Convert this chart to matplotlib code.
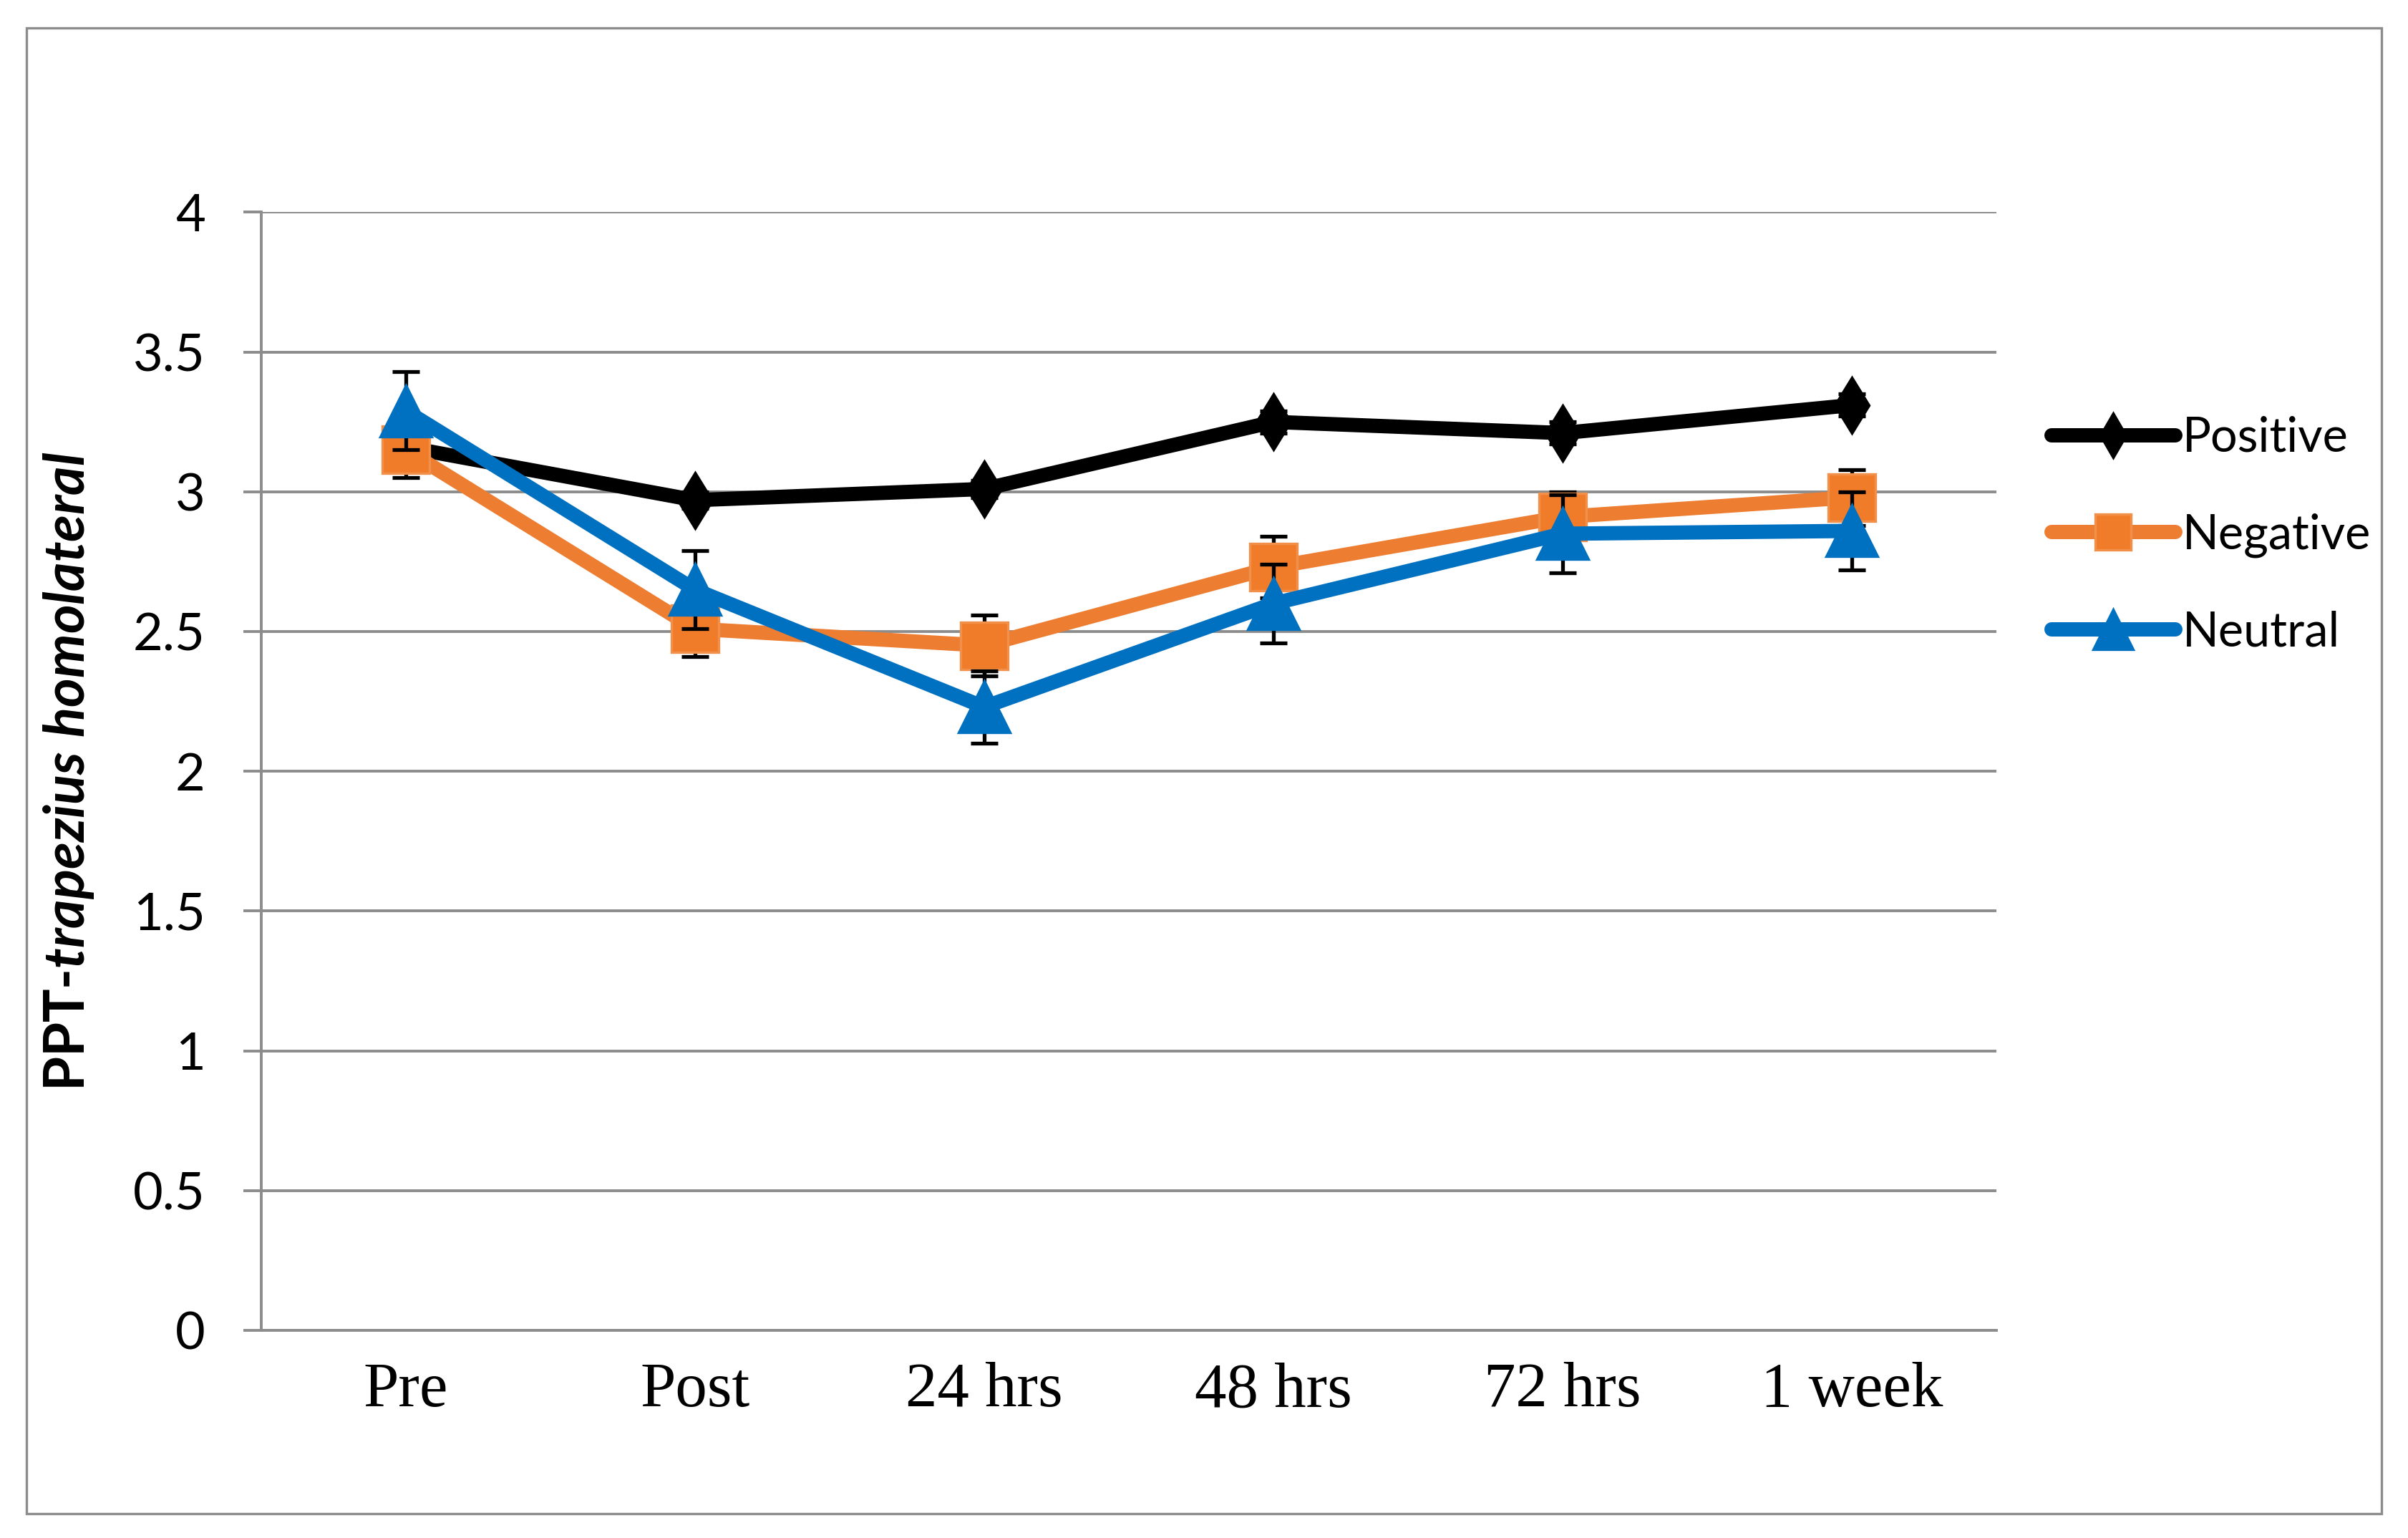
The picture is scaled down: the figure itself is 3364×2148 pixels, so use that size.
import matplotlib.pyplot as plt
from matplotlib.patches import Rectangle
import numpy as np

# data
categories = ["Pre", "Post", "24 hrs", "48 hrs", "72 hrs", "1 week"]
positive = [3.16, 2.97, 3.01, 3.25, 3.21, 3.31]
negative = [3.15, 2.51, 2.45, 2.73, 2.91, 2.98]
neutral = [3.29, 2.65, 2.23, 2.60, 2.85, 2.86]
positive_err = [0.04, 0.03, 0.03, 0.04, 0.04, 0.04]
negative_err = [0.10, 0.10, 0.11, 0.11, 0.09, 0.10]
neutral_err = [0.14, 0.14, 0.13, 0.14, 0.14, 0.14]

plt.rcParams["mathtext.fontset"] = "custom"
plt.rcParams["mathtext.bfit"] = "Lato:italic:bold"
plt.rcParams["mathtext.it"] = "Lato:italic"
plt.rcParams["mathtext.rm"] = "Lato"

fig = plt.figure(figsize=(16.82, 10.74), dpi=200)
ax = fig.add_axes([0.1084, 0.135, 0.7206, 0.727])

# outer frame
fig.patches.append(Rectangle((0.011, 0.016), 0.978, 0.966, transform=fig.transFigure,
                             fill=False, edgecolor="#8c8c8c", linewidth=1.2))

x = np.arange(len(categories))

series = [
    ("Positive", positive, positive_err, "black", "d", 20, "black", "black"),
    ("Negative", negative, negative_err, "#ED7D31", "s", 23.5, "#F07C2A", "#F0904A"),
    ("Neutral", neutral, neutral_err, "#0070C0", "^", 26, "#0070C0", "#0070C0"),
]

for i, (name, vals, err, col, mk, ms, mfc, mec) in enumerate(series):
    z = 3 + i
    ax.errorbar(x, vals, yerr=err, fmt="none", ecolor="black", elinewidth=1.9,
                capsize=7, capthick=1.9, zorder=z)
    ax.plot(x, vals, color=col, linewidth=7.2, marker=mk, markersize=ms,
            markerfacecolor=mfc, markeredgecolor=mec, markeredgewidth=1.2,
            solid_capstyle="round", label=name, zorder=z + 0.5)

ax.set_xlim(-0.5, len(categories) - 0.5)
ax.set_ylim(0, 4)
ax.set_yticks(np.arange(0, 4.01, 0.5))
ax.set_yticklabels(["0", "0.5", "1", "1.5", "2", "2.5", "3", "3.5", "4"],
                   fontfamily="Lato", fontsize=26)
ax.set_xticks(x)
ax.set_xticklabels(categories, fontfamily="Liberation Serif", fontsize=32)

ax.grid(axis="y", color="#8c8c8c", linewidth=1.4)
ax.set_axisbelow(True)
for s in ["top", "right"]:
    ax.spines[s].set_visible(False)
ax.spines["left"].set_color("#8c8c8c")
ax.spines["bottom"].set_color("#8c8c8c")
ax.spines["left"].set_linewidth(1.4)
ax.spines["bottom"].set_linewidth(1.4)
ax.tick_params(axis="y", length=9, width=1.4, color="#8c8c8c", pad=19)
ax.tick_params(axis="x", length=0, pad=16)

ax.set_ylabel(r"PPT-$\mathbfit{trapezius\ homolateral}$", fontfamily="Lato",
              fontweight="bold", fontsize=28)
ax.yaxis.set_label_coords(-0.095, 0.5)

fig.legend(loc="center left", bbox_to_anchor=(0.842, 0.652), frameon=False,
           prop={"family": "Lato", "size": 24}, handlelength=2.6,
           handletextpad=0.15, labelspacing=1.1, markerscale=0.78, borderpad=0)

fig.savefig("out.png", dpi=200)
